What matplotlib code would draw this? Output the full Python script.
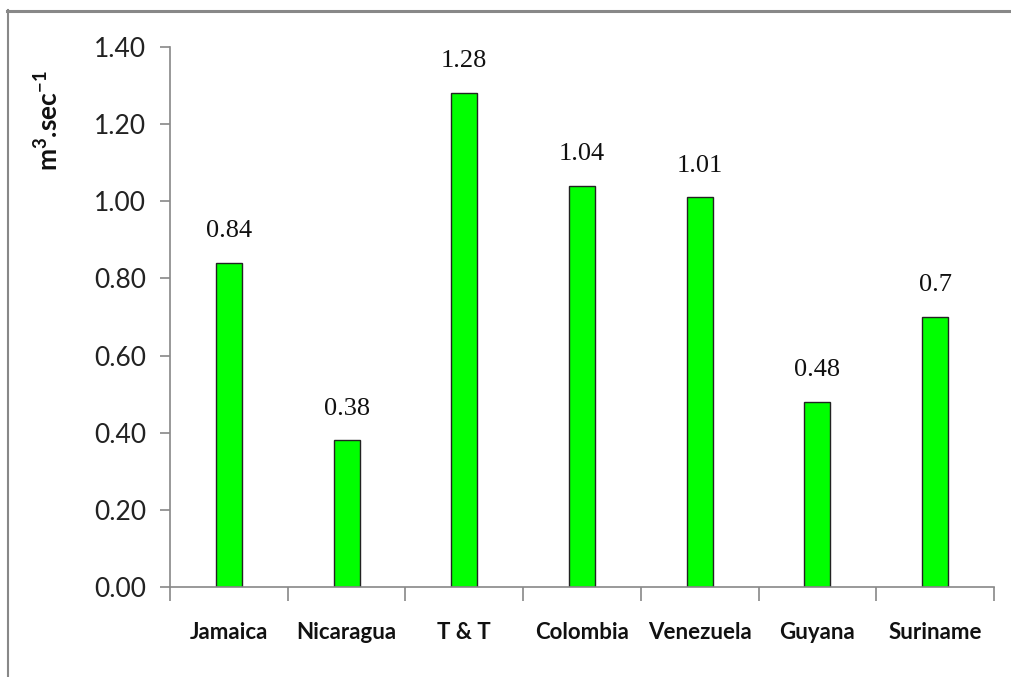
import matplotlib
matplotlib.use("Agg")
import matplotlib.pyplot as plt
from matplotlib.lines import Line2D
import numpy as np

countries = ["Jamaica", "Nicaragua", "T & T", "Colombia", "Venezuela", "Guyana", "Suriname"]
values = [0.84, 0.38, 1.28, 1.04, 1.01, 0.48, 0.70]
value_labels = ["0.84", "0.38", "1.28", "1.04", "1.01", "0.48", "0.7"]
yticks = [0.0, 0.2, 0.4, 0.6, 0.8, 1.0, 1.2, 1.4]

plt.rcParams["mathtext.fontset"] = "custom"
plt.rcParams["mathtext.rm"] = "Lato:bold"
plt.rcParams["mathtext.bf"] = "Lato:bold"

W, H = 1011, 677
fig = plt.figure(figsize=(W / 100, H / 100), dpi=100)
ax = fig.add_axes([170 / W, 1 - 587 / H, (994 - 170) / W, (587 - 47) / H])

centers = np.arange(len(countries)) + 0.5
ax.bar(centers, values, width=0.22, color="#00ff00", edgecolor="#222222", linewidth=1.0)

for x, v, lab in zip(centers, values, value_labels):
    ax.annotate(lab, (x, v), xytext=(0, 15), textcoords="offset points",
                ha="center", va="bottom", fontsize=19, family="Liberation Serif", color="#111111")

ax.set_xlim(0, len(countries))
ax.set_ylim(0, 1.4)
ax.set_yticks(yticks)
ax.set_yticklabels([f"{t:.2f}" for t in yticks], fontsize=19, family="Lato", color="#222222")
ax.tick_params(axis="y", direction="out", length=7, width=1.2, color="#888888", pad=10)

ax.set_xticks(np.arange(len(countries) + 1))
ax.set_xticklabels([])
ax.tick_params(axis="x", which="major", direction="out", length=10, width=1.2, color="#888888")
ax.set_xticks(centers, minor=True)
ax.set_xticklabels(countries, minor=True, fontsize=16, fontweight="bold", family="Lato", color="#111111")
ax.tick_params(axis="x", which="minor", length=0, pad=25)

for s in ["top", "right"]:
    ax.spines[s].set_visible(False)
for s in ["left", "bottom"]:
    ax.spines[s].set_color("#888888")
    ax.spines[s].set_linewidth(1.2)

fig.text(48 / W, 1 - 121 / H, r"m$^{\mathrm{3}}$.sec$^{\mathrm{-1}}$", rotation=90, ha="center", va="center",
         fontsize=19, fontweight="bold", family="Lato", color="#111111")

# outer frame: top and left edges
fig.add_artist(Line2D([7 / W, 1.0], [1 - 10.5 / H, 1 - 10.5 / H], transform=fig.transFigure,
                      color="#888888", linewidth=2.2))
fig.add_artist(Line2D([7.5 / W, 7.5 / W], [0, 1 - 10 / H], transform=fig.transFigure,
                      color="#888888", linewidth=1.5))

fig.savefig("out.png", dpi=100)
